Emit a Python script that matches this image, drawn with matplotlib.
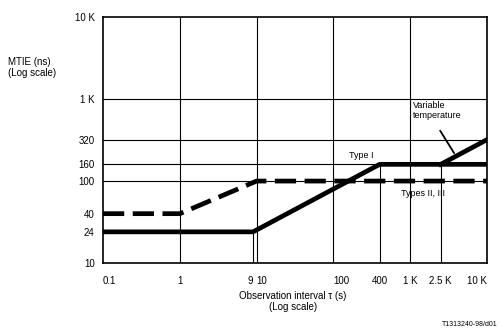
import numpy as np
import matplotlib
matplotlib.use("Agg")
import matplotlib.pyplot as plt

plt.rcParams['font.family'] = ['Liberation Sans', 'DejaVu Sans']

# Type I mask (solid)
type1_tau = [0.1, 9, 400, 10000]
type1_mtie = [24, 24, 160, 160]

# Types II, III mask (dashed)
type23_tau = [0.1, 1, 10, 10000]
type23_mtie = [40, 40, 100, 100]

# Variable temperature segment
vt_tau = [2500, 10000]
vt_mtie = [160, 320]

# reference grid lines
full_vlines = [1, 10, 100, 1000]
short_vlines = [(9, 24), (400, 160), (2500, 160)]  # (tau, top)
hlines = [100, 160, 320, 1000]

xticks = [0.1, 1, 9, 10, 100, 400, 1000, 2500, 10000]
xticklabels = ['0.1', '1', '9', '10', '100', '400', '1 K', '2.5 K', '10 K']
yticks = [10, 24, 40, 100, 160, 320, 1000, 10000]
yticklabels = ['10', '24', '40', '100', '160', '320', '1 K', '10 K']

fig = plt.figure(figsize=(5, 3.3), dpi=100)
ax = fig.add_axes([0.206, 0.203, 0.768, 0.745])
ax.set_xscale('log')
ax.set_yscale('log')
ax.set_xlim(0.1, 10000)
ax.set_ylim(10, 10000)

thin = dict(color='black', lw=0.8)
for x in full_vlines:
    ax.axvline(x, **thin)
for x, top in short_vlines:
    ax.plot([x, x], [10, top], **thin)
for y in hlines:
    ax.axhline(y, **thin)

ax.plot(type1_tau, type1_mtie, color='black', lw=3.4, solid_joinstyle='round',
        solid_capstyle='butt')
ax.plot(type23_tau, type23_mtie, color='black', lw=3.4, dashes=(4.5, 1.8))
ax.plot(vt_tau, vt_mtie, color='black', lw=3.4)

ax.text(230, 205, 'Type I', fontsize=6.5, ha='center', va='center')
ax.text(1450, 70, 'Types II, III', fontsize=6.5, ha='center', va='center')
ax.text(1080, 950, 'Variable\ntemperature', fontsize=6.5, ha='left', va='top',
        linespacing=1.1)
ax.annotate('', xy=(3900, 205), xytext=(2350, 440),
            arrowprops=dict(arrowstyle='-', lw=1.3, color='black'))

ax.set_xticks(xticks)
ax.set_xticklabels(xticklabels)
ax.set_yticks(yticks)
ax.set_yticklabels(yticklabels)
ax.minorticks_off()
ax.tick_params(axis='both', length=0, labelsize=7)
ax.tick_params(axis='x', pad=9)
ax.tick_params(axis='y', pad=6)
labels = ax.get_xticklabels()
labels[0].set_ha('left')
labels[2].set_ha('right')
labels[3].set_ha('left')
labels[4].set_ha('left')
labels[-1].set_ha('right')

for s in ax.spines.values():
    s.set_linewidth(1.2)

fig.text(0.016, 1 - 57 / 330, 'MTIE (ns)\n(Log scale)', fontsize=7,
         ha='left', va='top', linespacing=1.1)
fig.text(0.586, 1 - 291 / 330, 'Observation interval \u03c4 (s)\n(Log scale)',
         fontsize=7, ha='center', va='top', linespacing=1.1)
fig.text(0.996, 1 - 325 / 330, 'T1313240-98/d01', fontsize=5,
         ha='right', va='center')

fig.savefig('out.png', dpi=100)
